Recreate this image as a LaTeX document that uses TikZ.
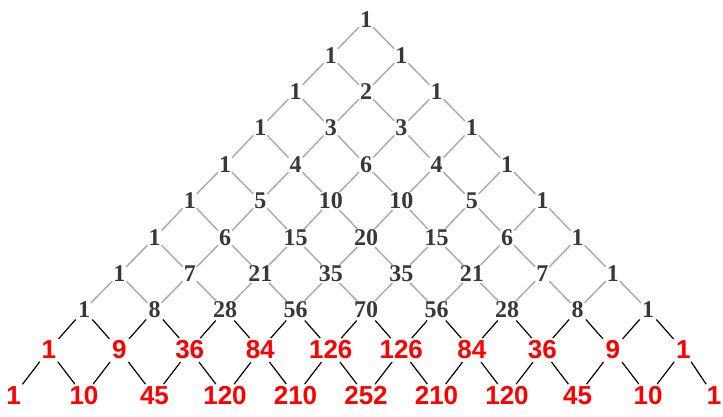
\documentclass[tikz,border=0pt]{standalone}
\usepackage{fontspec}
\setmainfont{Liberation Serif}
\newfontfamily\redfont{Liberation Sans}
\begin{document}
\begin{tikzpicture}[x=1pt,y=-1pt,
  gnum/.style={font=\fontsize{24}{24}\selectfont\bfseries, text=black!78, inner sep=0.8pt},
  rnum/.style={font=\redfont\fontsize{26}{26}\selectfont\bfseries, text=red, inner sep=1pt},
  glink/.style={draw=black!32, line width=1.5pt},
  blink/.style={draw=black, line width=1.2pt, shorten <=2pt, shorten >=2pt}]
\useasboundingbox (0,0) rectangle (723,416);
\foreach \r/\y/\st/\vals in {
  0/20/gnum/{1},
  1/56/gnum/{1,1},
  2/92/gnum/{1,2,1},
  3/128/gnum/{1,3,3,1},
  4/165/gnum/{1,4,6,4,1},
  5/201/gnum/{1,5,10,10,5,1},
  6/238/gnum/{1,6,15,20,15,6,1},
  7/274/gnum/{1,7,21,35,35,21,7,1},
  8/310/gnum/{1,8,28,56,70,56,28,8,1},
  9/350/rnum/{1,9,36,84,126,126,84,36,9,1},
  10/396/rnum/{1,10,45,120,210,252,210,120,45,10,1}}{
  \foreach \v [count=\k from 0] in \vals {
    \pgfmathsetmacro\xx{366+(2*\k-\r)*35.25}
    \ifnum\r=10 \ifnum\k=10 \def\xx{714}\fi\fi
    \node[\st] (n-\r-\k) at (\xx,\y) {\v};
  }
}
\foreach \r in {0,...,9}{
  \pgfmathtruncatemacro\rn{\r+1}
  \foreach \k in {0,...,\r}{
    \pgfmathtruncatemacro\kn{\k+1}
    \ifnum\r<8 \def\ls{glink}\else\def\ls{blink}\fi
    \draw[\ls] (n-\r-\k) -- (n-\rn-\k);
    \draw[\ls] (n-\r-\k) -- (n-\rn-\kn);
  }
}
\end{tikzpicture}
\end{document}
